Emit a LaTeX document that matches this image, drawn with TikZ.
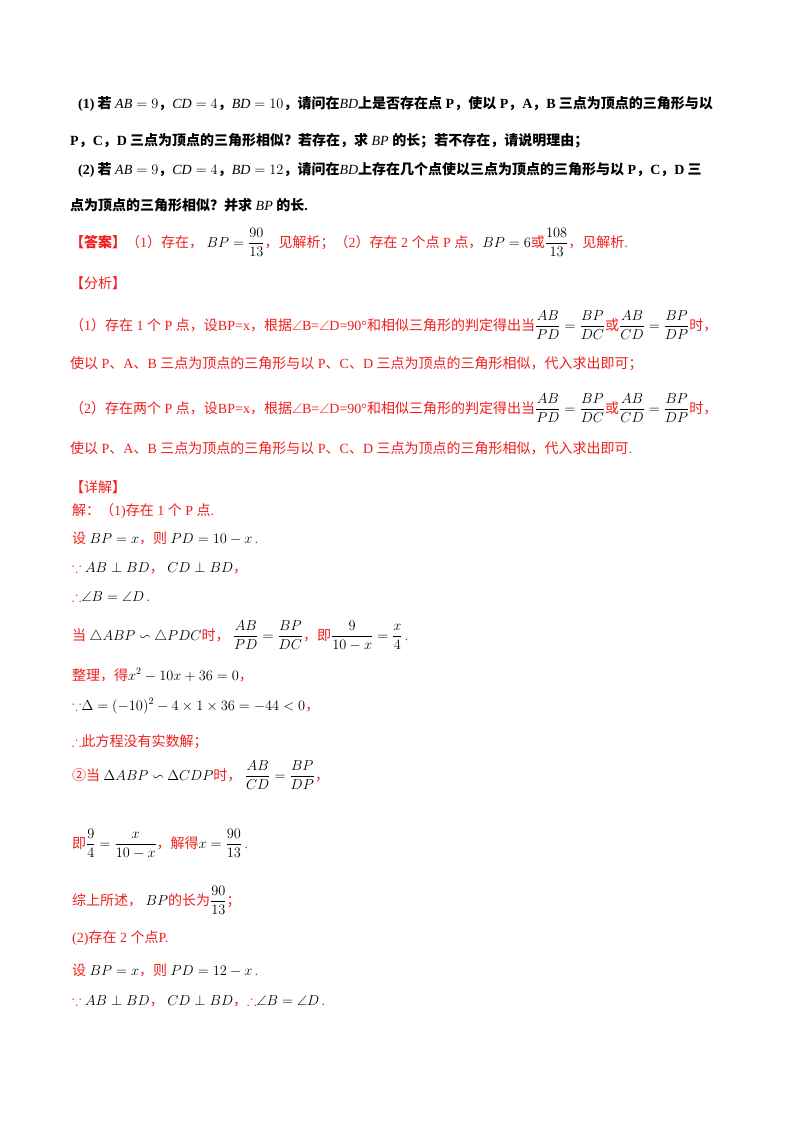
\documentclass[tikz,border=0pt]{standalone}
\usepackage{amsmath,amssymb}
\usepackage{fontspec}
\setmainfont{Liberation Serif}
\newfontfamily\zhf{Noto Sans CJK SC}
\newcommand{\zh}[1]{{\zhf #1}}
\definecolor{rd}{RGB}{240,30,30}
\tikzset{ln/.style={anchor=base west,inner sep=0pt,font=\fontsize{14}{16}\selectfont}, q/.style={ln,font=\fontsize{14}{16}\selectfont\bfseries}, r/.style={ln,text=rd}}
\newcommand{\bk}[1]{\textcolor{black}{#1}}
\begin{document}
\begin{tikzpicture}[x=1pt,y=-1pt]
\useasboundingbox[fill=white] (0,0) rectangle (800,1132);
\node[q] (l1) at (78,108) {(1)\zh{ 若} $\mathit{AB}=9$\zh{，}$\mathit{CD}=4$\zh{，}$\mathit{BD}=10$\zh{，请问在}$\mathit{BD}$\zh{上是否存在点} P\zh{，使以} P\zh{，}A\zh{，}B\zh{ 三点为顶点的三角形与以}};
\node[q] (l2) at (70,145) {P\zh{，}C\zh{，}D\zh{ 三点为顶点的三角形相似？若存在，求} $\mathit{BP}$ \zh{的长；若不存在，请说明理由；}};
\node[q] (l3) at (78,174) {(2)\zh{ 若} $\mathit{AB}=9$\zh{，}$\mathit{CD}=4$\zh{，}$\mathit{BD}=12$\zh{，请问在}$\mathit{BD}$\zh{上存在几个点使以三点为顶点的三角形与以} P\zh{，}C\zh{，}D\zh{ 三}};
\node[q] (l4) at (70,210) {\zh{点为顶点的三角形相似？并求} $\mathit{BP}$ \zh{的长}.};
\node[r] (ans) at (70,247) {\zh{\bfseries【答案】}\zh{（}1\zh{）存在，} \bk{$BP=\dfrac{90}{13}$}\zh{，见解析；（}2\zh{）存在} 2 \zh{个点} P \zh{点，}\bk{$BP=6$}\zh{或}\bk{$\dfrac{108}{13}$}\zh{，见解析}.};
\node[r] (fx) at (70,288) {\zh{【分析】}};
\node[r] (f1) at (70,330) {\zh{（}1\zh{）存在} 1 \zh{个} P \zh{点，设}BP=x\zh{，根据}$\angle$B=$\angle$D=90°\zh{和相似三角形的判定得出当}\bk{$\dfrac{AB}{PD}=\dfrac{BP}{DC}$}\zh{或}\bk{$\dfrac{AB}{CD}=\dfrac{BP}{DP}$}\zh{时，}};
\node[r] (f2) at (70,368) {\zh{使以} P\zh{、}A\zh{、}B \zh{三点为顶点的三角形与以} P\zh{、}C\zh{、}D \zh{三点为顶点的三角形相似，代入求出即可；}};
\node[r] (f3) at (70,413) {\zh{（}2\zh{）存在两个} P \zh{点，设}BP=x\zh{，根据}$\angle$B=$\angle$D=90°\zh{和相似三角形的判定得出当}\bk{$\dfrac{AB}{PD}=\dfrac{BP}{DC}$}\zh{或}\bk{$\dfrac{AB}{CD}=\dfrac{BP}{DP}$}\zh{时，}};
\node[r] (f4) at (70,453) {\zh{使以} P\zh{、}A\zh{、}B \zh{三点为顶点的三角形与以} P\zh{、}C\zh{、}D \zh{三点为顶点的三角形相似，代入求出即可}.};
\node[r] (xj) at (70,492) {\zh{【详解】}};
\node[r] (s1) at (72,515) {\zh{解：（}1)\zh{存在} 1 \zh{个} P \zh{点}.};
\node[r] (s2) at (72,543) {\zh{设} \bk{$BP=x$}\zh{，则} \bk{$PD=10-x$}\,.};
\node[r] (s3) at (72,572) {$\because$ \bk{$AB\perp BD$}\zh{，} \bk{$CD\perp BD$}\zh{，}};
\node[r] (s4) at (72,601) {$\therefore$\bk{$\angle B=\angle D$}\,.};
\node[r] (s5) at (72,640) {\zh{当} \bk{$\triangle ABP\backsim\triangle PDC$}\zh{时，} \bk{$\dfrac{AB}{PD}=\dfrac{BP}{DC}$}\zh{，即}\bk{$\dfrac{9}{10-x}=\dfrac{x}{4}$}\,.};
\node[r] (s6) at (72,680) {\zh{整理，得}\bk{$x^2-10x+36=0$}\zh{，}};
\node[r] (s7) at (72,710) {$\because$\bk{$\Delta=(-10)^2-4\times1\times36=-44<0$}\zh{，}};
\node[r] (s8) at (72,746) {$\therefore$\zh{此方程没有实数解；}};
\node[r] (s9) at (72,780) {\zh{②当} \bk{$\Delta ABP\backsim\Delta CDP$}\zh{时，} \bk{$\dfrac{AB}{CD}=\dfrac{BP}{DP}$}\zh{，}};
\node[r] (s10) at (72,848) {\zh{即}\bk{$\dfrac{9}{4}=\dfrac{x}{10-x}$}\zh{，解得}\bk{$x=\dfrac{90}{13}$}\,.};
\node[r] (s11) at (72,905) {\zh{综上所述，} \bk{$BP$}\zh{的长为}\bk{$\dfrac{90}{13}$}\zh{；}};
\node[r] (s12) at (72,942) {(2)\zh{存在} 2 \zh{个点}P.};
\node[r] (s13) at (72,975) {\zh{设} \bk{$BP=x$}\zh{，则} \bk{$PD=12-x$}\,.};
\node[r] (s14) at (72,1005) {$\because$ \bk{$AB\perp BD$}\zh{，} \bk{$CD\perp BD$}\zh{，}$\therefore$\bk{$\angle B=\angle D$}\,.};
\end{tikzpicture}
\end{document}
